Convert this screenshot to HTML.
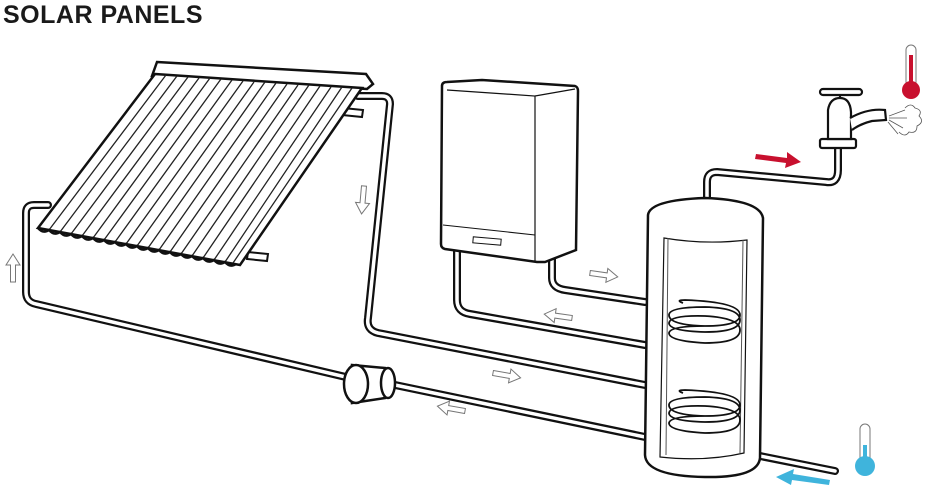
<!DOCTYPE html>
<html><head><style>
html,body{margin:0;padding:0;background:#fff;width:930px;height:492px;overflow:hidden}
.t{position:absolute;left:3px;top:1px;font:bold 25px "Liberation Sans",sans-serif;color:#1a1a1a;letter-spacing:0.5px}
svg{position:absolute;left:0;top:0}
</style></head><body>
<div class="t">SOLAR PANELS</div>
<svg width="930" height="492" viewBox="0 0 930 492">
<defs>
<g id="ha"><polygon points="0,-2.5 17,-2.5 17,-7 28,0 17,7 17,2.5 0,2.5" fill="#fff" stroke="#777" stroke-width="1"/></g>
</defs>
<g fill="none" stroke-linejoin="round" stroke-linecap="round">
<g stroke="#111" stroke-width="8">
<path d="M48,205 L34,205 Q26,205 26,213 L26,292 Q26,302 36,304 L350,378"/>
<path d="M395,385 L645,437"/>
<path d="M358,96 L382,96 Q390,96 390,104 L368,318 Q366,330 378,333 L645,385"/>
<path d="M457,250 L457,300 Q457,312 470,314 L645,345"/>
<path d="M552,258 L552,278 Q552,288 565,290 L645,302"/>
<path d="M707,205 L707,182 Q707,172 717,172 L826,182 Q838,184 838,170 L838,148"/>
<path d="M755,455 L835,471"/>
</g>
<g stroke="#fff" stroke-width="3.5">
<path d="M48,205 L34,205 Q26,205 26,213 L26,292 Q26,302 36,304 L350,378"/>
<path d="M395,385 L645,437"/>
<path d="M358,96 L382,96 Q390,96 390,104 L368,318 Q366,330 378,333 L645,385"/>
<path d="M457,250 L457,300 Q457,312 470,314 L645,345"/>
<path d="M552,258 L552,278 Q552,288 565,290 L645,302"/>
<path d="M707,205 L707,182 Q707,172 717,172 L826,182 Q838,184 838,170 L838,148"/>
<path d="M755,455 L835,471"/>
</g>
</g>
<polygon points="343,108 363,110 362,117 342,115" fill="#fff" stroke="#111" stroke-width="2"/>
<polygon points="248,252 268,254 267,261 247,259" fill="#fff" stroke="#111" stroke-width="2"/>
<polygon points="157,62 366,74 373,84 367,89 152,76" fill="#fff" stroke="#111" stroke-width="2.5"/>
<polygon points="155,74 362,88 240,265 38,228" fill="#fff" stroke="#111" stroke-width="2.5"/>
<g stroke="#222" stroke-width="1.3">
<line x1="166" y1="75" x2="49" y2="230"/><line x1="177" y1="76" x2="60" y2="232"/>
<line x1="188" y1="77" x2="71" y2="234"/><line x1="199" y1="78" x2="82" y2="236"/>
<line x1="210" y1="78" x2="93" y2="238"/><line x1="221" y1="79" x2="104" y2="240"/>
<line x1="232" y1="80" x2="115" y2="242"/><line x1="243" y1="81" x2="126" y2="244"/>
<line x1="254" y1="82" x2="137" y2="246"/><line x1="265" y1="82" x2="148" y2="248"/>
<line x1="276" y1="83" x2="159" y2="250"/><line x1="287" y1="84" x2="170" y2="252"/>
<line x1="298" y1="85" x2="181" y2="254"/><line x1="309" y1="85" x2="192" y2="256"/>
<line x1="320" y1="86" x2="203" y2="258"/><line x1="331" y1="87" x2="214" y2="260"/>
<line x1="342" y1="87" x2="225" y2="262"/><line x1="352" y1="88" x2="233" y2="263"/>
</g>
<g stroke="#111" stroke-width="2.5" fill="none">
<path d="M38,228 q5,6 11,2 q5,6 11,2 q5,6 11,2 q5,6 11,2 q5,6 11,2 q5,6 11,2 q5,6 11,2 q5,6 11,2 q5,6 11,2 q5,6 11,2 q5,6 11,2 q5,6 11,2 q5,6 11,2 q5,6 11,2 q5,6 11,2 q5,6 11,2 q5,6 11,2 q5,6 11,2"/>
</g>
<path d="M352,365 L385,368 L385,398 L352,403 Z" fill="#fff" stroke="#111" stroke-width="2.5"/>
<ellipse cx="356" cy="384" rx="12" ry="19" fill="#fff" stroke="#111" stroke-width="2.5"/>
<ellipse cx="388" cy="383" rx="7" ry="15" fill="#fff" stroke="#111" stroke-width="2.5"/>
<path d="M442,86 Q442,82 447,82 L482,80 L575,86 Q578,87 578,91 L576,250 L545,262 L537,262 L445,249 Q441,248 441,244 Z" fill="#fff" stroke="#111" stroke-width="2.5"/>
<path d="M447,90 L535,96 L535,262 M535,96 L575,89" fill="none" stroke="#111" stroke-width="1.2"/>
<path d="M443,225 L535,235" fill="none" stroke="#111" stroke-width="1"/>
<rect x="473" y="238" width="28" height="6" fill="#fff" stroke="#111" stroke-width="1" transform="rotate(5 487 241)"/>
<path d="M648,215 Q650,200 705,198 Q760,200 763,218 L760,458 Q758,478 705,477 Q646,476 645,455 Z" fill="#fff" stroke="#111" stroke-width="2.5"/>
<path d="M664,238 Q705,245 747,240 L744,453 Q705,462 660,457 Z" fill="#fff" stroke="#111" stroke-width="1.2"/>
<path d="M668,238 L666,455 M743,240 L740,453" stroke="#555" stroke-width="1"/>
<g fill="none" stroke="#111" stroke-width="1.8">
<path d="M683,303 Q675,300 685,300 Q740,302 740,315 Q740,326 705,326 Q669,325 669,315 Q669,307 705,307 Q740,308 740,320 Q740,332 705,332 Q669,331 669,323 Q670,315 705,316 Q740,318 740,330 Q740,343 705,343 Q669,341 669,333 Q670,326 705,326"/>
<path d="M683,393 Q675,390 685,390 Q740,392 740,405 Q740,416 705,416 Q669,415 669,405 Q669,397 705,397 Q740,398 740,410 Q740,422 705,422 Q669,421 669,413 Q670,405 705,406 Q740,408 740,420 Q740,433 705,433 Q669,431 669,423 Q670,416 705,416"/>
</g>
<g stroke="#111" stroke-width="2.2" fill="#fff">
<rect x="820" y="139" width="36" height="9" rx="2"/>
<path d="M828,139 L828,110 Q830,98 840,98 Q850,98 851,112 L851,139 Z"/>
<path d="M850,118 Q868,108 885,110 L886,120 L872,121 Q860,124 852,130"/>
<rect x="820" y="89" width="42" height="6" rx="3"/>
<line x1="840" y1="95" x2="840" y2="98"/>
</g>
<g stroke="#555" stroke-width="0.8" fill="none">
<line x1="889" y1="116" x2="905" y2="110"/><line x1="889" y1="118" x2="907" y2="118"/>
<line x1="889" y1="120" x2="903" y2="128"/><line x1="888" y1="122" x2="898" y2="134"/>
<path d="M905,108 q6,-6 10,0 q8,2 4,8 q6,6 -2,10 q0,8 -8,6 q-4,6 -10,0"/>
</g>
<rect x="906" y="45" width="10" height="42" rx="5" fill="#fff" stroke="#777" stroke-width="1"/>
<rect x="909" y="55" width="4" height="35" fill="#c8102e"/>
<circle cx="911" cy="90" r="9" fill="#c8102e"/>
<rect x="860" y="424" width="10" height="42" rx="5" fill="#fff" stroke="#777" stroke-width="1"/>
<rect x="863" y="445" width="4" height="20" fill="#3fb4dc"/>
<circle cx="865" cy="466" r="10" fill="#3fb4dc"/>
<polygon points="756,154 787,158 787,152 801,162 785,168 786,163 755,159" fill="#c8102e"/>
<polygon points="830,480 793,474 794,469 776,477 791,485 792,480 829,485" fill="#3fb4dc"/>
<use href="#ha" transform="translate(13,282) rotate(-90)"/>
<use href="#ha" transform="translate(364,186) rotate(95)"/>
<use href="#ha" transform="translate(590,273) rotate(8)"/>
<use href="#ha" transform="translate(572,318) rotate(188)"/>
<use href="#ha" transform="translate(493,373) rotate(10)"/>
<use href="#ha" transform="translate(465,411) rotate(190)"/>
</svg>
</body></html>
